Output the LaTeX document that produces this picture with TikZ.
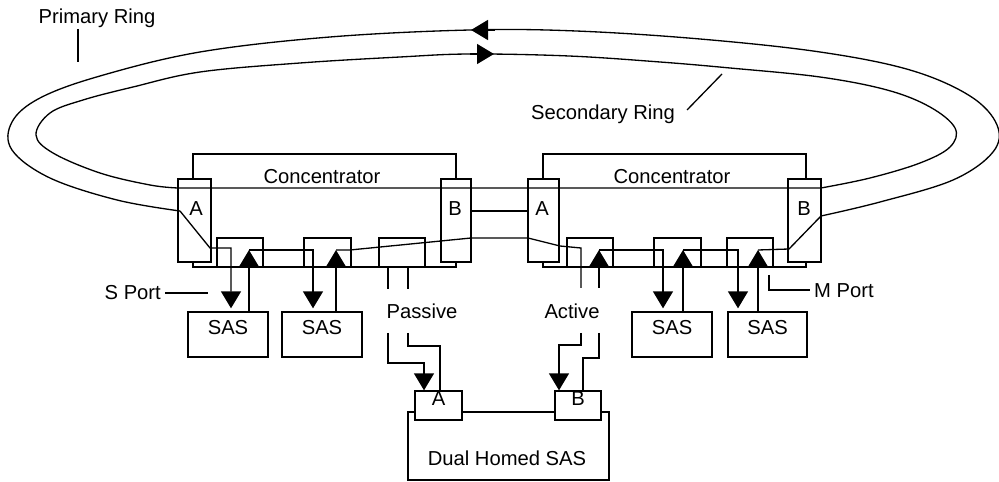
\documentclass[tikz,border=0pt]{standalone}
\usepackage{fontspec}
\setmainfont{Liberation Sans}
\usetikzlibrary{arrows.meta}
\usetikzlibrary{fit}
\tikzset{>={Triangle[width=4mm,length=3.4mm]}}

\begin{document}
\begin{tikzpicture}[x=0.02cm, y=-0.02cm, line width=0.75pt,
		every node/.style={font=\fontsize{11.5}{13}\selectfont},
		body/.style={draw, inner sep=0pt},
		port/.style={draw, fill=white, inner sep=0pt},
		txt/.style={anchor=base, inner sep=0pt},
		gap/.style={shorten >=0.06cm}]
		\useasboundingbox (0,0) rectangle (999,482);

		% concentrators
		\node[body, fit={(193,154) (456,267)}] (concL) {};
		\node[body, fit={(543,154) (806,267)}] (concR) {};
		\node[port, fit={(178,179) (211,262)}] (aL) {};
		\node[port, fit={(441,179) (471,262)}] (bL) {};
		\node[port, fit={(528,179) (559,262)}] (aR) {};
		\node[port, fit={(788,179) (821,262)}] (bR) {};
		\node[body, fit={(217,238) (263,267)}] (pL1) {};
		\node[body, fit={(304,238) (351,267)}] (pL2) {};
		\node[body, fit={(379,238) (425,267)}] (pL3) {};
		\node[body, fit={(567,238) (613,267)}] (pR1) {};
		\node[body, fit={(654,238) (701,267)}] (pR2) {};
		\node[body, fit={(727,238) (773,267)}] (pR3) {};

		\node[txt] (concLtxt) at (322,184) {Concentrator};
		\node[txt] (concRtxt) at (672,184) {Concentrator};
		\node[txt] (aLtxt) at (196,216) {A};
		\node[txt] (bLtxt) at (455,216) {B};
		\node[txt] (aRtxt) at (542,216) {A};
		\node[txt] (bRtxt) at (804,216) {B};

		% stations
		\node[body, fit={(188,312) (268,357)}] (sasL1) {SAS};
		\node[body, fit={(282,312) (362,357)}] (sasL2) {SAS};
		\node[body, fit={(632,312) (712,357)}] (sasR1) {SAS};
		\node[body, fit={(728,312) (807,357)}] (sasR2) {SAS};

		\node[body, fit={(408,412) (609,480)}] (dual) {};
		\node[port, fit={(415,391) (462,420)}] (dA) {A};
		\node[port, fit={(555,391) (601,420)}] (dB) {B};
		\node[txt] (dualtxt) at (507,465) {Dual Homed SAS};

		% rings
		\draw plot[smooth, tension=0.6] coordinates {(180,211) (117,200) (50,178) (12,150) (12,122) (40,98) (100,76) (200,52) (330,37) (470,30) (576,31) (700,39) (820,52) (910,70) (970,96) (997,125) (993,152) (953,180) (880,202) (821,216)};
		\draw plot[smooth, tension=0.6] coordinates {(178,188) (150,185) (100,173) (53,153) (36,135) (50,113) (83,100) (133,87) (200,72) (300,63) (400,57) (470,54) (569,56) (660,62) (730,68) (820,77) (887,90) (930,107) (955,128) (950,147) (920,163) (870,178) (821,188)} -- cycle;
		\draw[->] (495,30) -- (471,30);
		\draw[->] (470,54) -- (494,54);

		\draw[->, gap] (180,211) -- (210,248) -| (sasL1.north -| 231,0);
		\draw[->] (sasL1.north -| 249,0) -- (249,250);
		\draw[->, gap] (249,250) -| (sasL2.north -| 313,0);
		\draw[->] (sasL2.north -| 336,0) -- (336,250);
		\draw (336,250) -- (350,250) -- (471,238) -- (528,238) -- (560,246) -- (581,248) -- (581,288);
		\draw (bL.east |- 0,211) -- (aR.west |- 0,211);

		\draw[->] (599,288) -- (599,250);
		\draw[->, gap] (599,250) -| (sasR1.north -| 663,0);
		\draw[->] (sasR1.north -| 683,0) -- (683,250);
		\draw[->, gap] (683,250) -| (sasR2.north -| 738,0);
		\draw[->] (sasR2.north -| 758,0) -- (758,250);
		\draw (758,250) -- (789,249) -- (821,216);

		% dual homing
		\draw (pL3.south -| 388,0) -- ++(0,21);
		\draw (pL3.south -| 408,0) -- ++(0,21);
		\node[txt] (passive) at (422,318) {Passive};
		\node[txt] (active) at (572,318) {Active};
		\draw[->] (388,333) |- (424,363) -- (dA.north -| 424,0);
		\draw (408,333) |- (440,346) -- (dA.north -| 440,0);
		\draw[->] (581,333) |- (559,345) -- (dB.north -| 559,0);
		\draw (599,333) |- (583,358) -- (dB.north -| 583,0);

		% labels
		\node[txt, anchor=base west] (primary) at (38,24) {Primary Ring};
		\draw (primary.south -| 78,0) -- (78,62);
		\node[txt] (secondary) at (603,120) {Secondary Ring};
		\draw (687,110) -- (722,74);
		\node[txt, anchor=base east, inner xsep=2pt] (sport) at (165,300) {S Port};
		\draw (sport.east) -- ++(43,0);
		\node[txt, anchor=base west, inner xsep=2pt] (mport) at (810,297) {M Port};
		\draw (769,275) |- (mport.west);
	\end{tikzpicture}
\end{document}
